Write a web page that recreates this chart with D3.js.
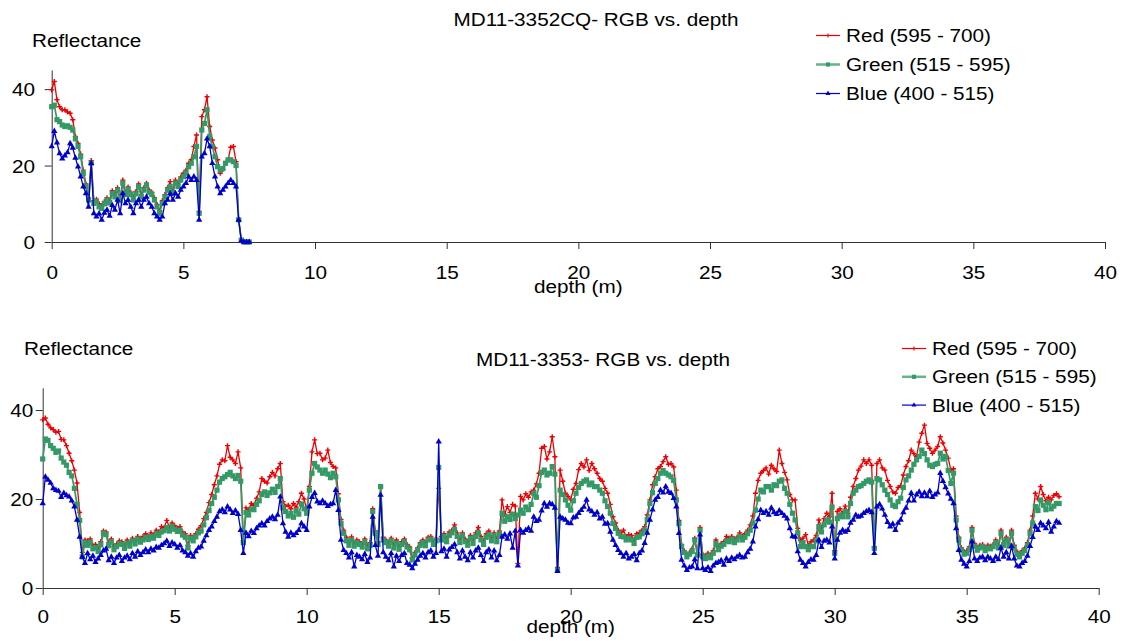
<!DOCTYPE html>
<html>
<head>
<meta charset="utf-8">
<script src="https://cdn.jsdelivr.net/npm/d3@7"></script>
<style>
body { margin: 0; background: #fff; }
svg { display: block; font-family: 'Liberation Sans', Arial, sans-serif; }
</style>
</head>
<body>
<svg id="chart" width="1123" height="641"></svg>
<script>
// depth is sampled every 10 cm, first sample at 0 m
const depthStep = 0.1
const xTicks = [0, 5, 10, 15, 20, 25, 30, 35, 40]
const yTicks = [0, 20, 40]
const seriesNames = ['Red (595 - 700)', 'Green (515 - 595)', 'Blue (400 - 515)']

// MD11-3352CQ (0 - 7.5 m)
const top_red = [
    39.8, 42.0, 37.2, 35.4, 34.6, 34.6, 34.0, 33.7, 32.0, 27.6,
    25.8, 23.0, 18.8, 15.2, 11.6, 21.3, 10.8, 11.2, 10.0, 9.4,
    10.6, 11.6, 10.8, 13.4, 12.6, 14.2, 11.4, 16.2, 13.0, 14.4,
    13.0, 11.8, 13.2, 15.2, 12.4, 14.2, 15.4, 13.6, 13.0, 11.6,
    9.8, 8.2, 10.8, 12.4, 14.2, 15.8, 13.4, 16.2, 15.2, 17.0,
    18.0, 18.8, 20.6, 21.5, 25.0, 28.0, 8.0, 32.8, 34.6, 38.0,
    30.2, 26.7, 24.6, 21.5, 18.0, 19.0, 20.6, 21.5, 24.8, 25.0,
    21.0, 6.0, 0.6, 0, 0, 0]
const top_green = [
    35.4, 35.8, 32.0, 31.5, 30.6, 30.2, 30.4, 30.0, 29.3, 27.0,
    25.0, 22.3, 18.0, 14.5, 11.0, 20.6, 10.1, 10.6, 9.2, 8.8,
    10.0, 11.0, 10.2, 12.7, 11.8, 13.6, 10.8, 15.4, 12.4, 13.8,
    12.4, 11.0, 12.6, 14.5, 11.8, 13.6, 14.9, 13.0, 12.4, 11.0,
    9.2, 7.5, 10.1, 11.8, 13.6, 14.5, 12.7, 15.4, 14.5, 16.2,
    17.1, 18.0, 19.7, 20.6, 22.3, 25.0, 7.5, 29.3, 31.0, 34.6,
    27.6, 25.0, 22.3, 19.7, 18.8, 19.2, 20.6, 21.5, 21.5, 21.0,
    20.0, 5.8, 0.5, 0, 0, 0]
const top_blue = [
    25.0, 29.0, 26.0, 23.2, 21.8, 22.6, 23.4, 25.8, 24.6, 22.0,
    19.7, 17.1, 14.5, 12.7, 9.2, 20.6, 7.5, 6.6, 7.4, 5.8,
    7.6, 8.4, 6.8, 9.6, 8.4, 11.0, 7.5, 12.7, 10.1, 11.0,
    9.2, 7.5, 10.1, 11.0, 9.2, 11.0, 11.8, 10.1, 9.2, 7.5,
    6.6, 5.8, 6.6, 10.1, 11.0, 12.7, 11.0, 12.7, 11.8, 13.6,
    14.5, 15.4, 17.1, 16.2, 17.1, 16.2, 5.8, 22.3, 23.2, 27.0,
    25.0, 20.6, 17.1, 14.5, 12.7, 13.6, 14.5, 15.4, 16.2, 15.4,
    14.5, 5.8, 0.3, 0, 0, 0]

// MD11-3353 (0 - 38.5 m)
const bot_red = [
    37.8, 38.2, 36.8, 36.0, 35.6, 35.0, 35.2, 33.4, 33.3, 32.0,
    30.3, 28.6, 26.5, 23.6, 17.0, 8.0, 10.8, 10.6, 11.0, 9.6,
    9.8, 9.0, 10.4, 12.8, 12.6, 10.2, 11.0, 9.4, 9.9, 10.6,
    10.4, 9.6, 10.8, 10.0, 11.2, 10.6, 11.6, 11.0, 11.6, 12.2,
    11.6, 12.4, 11.9, 13.0, 12.6, 13.8, 13.6, 15.2, 13.6, 14.6,
    14.0, 13.4, 13.8, 12.6, 12.2, 9.6, 11.8, 11.4, 12.2, 13.2,
    14.0, 15.6, 17.0, 19.2, 21.0, 23.2, 25.2, 27.8, 28.8, 28.6,
    32.0, 29.4, 28.8, 28.0, 30.6, 27.0, 10.6, 18.0, 17.6, 19.0,
    18.6, 20.2, 21.6, 24.6, 24.0, 23.6, 25.0, 26.0, 25.2, 26.8,
    28.0, 19.4, 18.4, 18.6, 17.8, 19.0, 18.2, 19.4, 21.3, 20.0,
    17.5, 22.8, 30.6, 33.3, 30.2, 30.3, 28.8, 29.2, 31.0, 28.2,
    27.3, 27.0, 21.2, 15.4, 13.0, 11.4, 10.4, 11.5, 10.0, 10.8,
    10.4, 9.8, 11.0, 9.6, 10.2, 17.8, 12.8, 10.4, 22.8, 11.4,
    10.8, 10.2, 11.2, 9.8, 10.8, 9.4, 10.4, 11.0, 9.8, 9.2,
    6.8, 8.0, 9.0, 10.2, 10.8, 10.2, 11.4, 11.6, 10.4, 11.2,
    22.4, 11.6, 12.2, 11.2, 12.6, 13.0, 14.2, 12.4, 11.0, 12.4,
    11.0, 10.4, 11.8, 10.8, 12.4, 13.6, 11.6, 10.6, 12.2, 12.8,
    11.4, 12.4, 11.2, 12.8, 19.8, 16.6, 18.3, 17.0, 18.8, 18.4,
    5.5, 20.6, 19.8, 21.2, 20.4, 21.6, 22.0, 23.4, 25.8, 31.4,
    31.8, 29.0, 30.6, 34.0, 29.5, 4.6, 26.5, 24.0, 21.3, 20.6,
    19.8, 22.2, 23.5, 26.6, 28.0, 27.2, 28.8, 26.4, 28.0, 26.8,
    25.8, 24.6, 24.0, 22.4, 21.3, 18.8, 16.0, 14.6, 13.0, 12.4,
    13.0, 11.6, 12.0, 11.8, 10.8, 12.2, 12.4, 13.0, 13.8, 16.4,
    19.8, 23.2, 25.0, 26.8, 27.3, 28.4, 29.5, 27.8, 28.0, 27.2,
    22.0, 15.2, 9.8, 8.4, 7.6, 8.0, 8.8, 11.2, 7.8, 13.6,
    7.6, 7.2, 7.8, 7.4, 8.4, 10.8, 9.2, 10.0, 10.4, 11.6,
    11.2, 11.6, 11.0, 11.4, 12.4, 11.6, 12.2, 13.0, 14.2, 16.2,
    21.3, 24.2, 25.8, 26.4, 27.0, 25.6, 27.6, 26.8, 26.2, 31.0,
    28.0, 26.0, 24.3, 21.0, 19.8, 19.8, 13.4, 10.8, 11.2, 12.0,
    9.6, 10.4, 10.8, 11.8, 15.3, 13.6, 15.6, 16.8, 16.0, 21.3,
    8.4, 17.2, 17.8, 16.8, 18.4, 16.8, 20.4, 22.8, 24.6, 26.5,
    27.4, 28.8, 28.0, 28.8, 27.6, 9.2, 28.0, 28.8, 27.0, 26.5,
    24.2, 22.8, 21.6, 21.3, 22.6, 23.0, 25.4, 27.3, 28.6, 31.0,
    30.2, 29.5, 32.8, 34.8, 36.6, 32.5, 31.4, 30.3, 31.0, 31.8,
    34.0, 32.6, 31.0, 29.2, 26.5, 26.8, 16.2, 11.4, 9.0, 8.2,
    8.4, 9.2, 13.6, 10.0, 9.0, 9.6, 9.8, 9.0, 9.6, 9.4,
    9.8, 10.8, 9.6, 13.0, 10.2, 11.4, 10.0, 13.0, 9.6, 8.2,
    7.6, 8.4, 9.0, 10.2, 13.0, 16.2, 21.3, 20.0, 22.8, 21.0,
    19.6, 20.4, 19.8, 20.8, 21.2, 20.5]
const bot_green = [
    29.0, 33.5, 33.2, 32.0, 31.4, 30.5, 30.8, 29.2, 28.3, 27.6,
    26.0, 25.2, 22.4, 18.8, 15.2, 7.0, 10.2, 9.6, 10.3, 8.8,
    9.1, 8.2, 9.7, 12.3, 12.0, 9.5, 10.4, 8.6, 9.3, 10.0,
    9.8, 8.9, 10.1, 9.4, 10.6, 9.9, 11.0, 10.3, 10.8, 11.4,
    10.9, 11.6, 11.2, 12.2, 11.8, 12.6, 12.9, 13.6, 12.8, 13.9,
    13.2, 12.7, 13.0, 11.9, 11.4, 9.0, 11.2, 10.6, 11.5, 12.4,
    12.8, 14.2, 15.8, 17.4, 19.0, 20.4, 22.0, 23.8, 24.6, 25.0,
    25.5, 26.0, 25.2, 24.6, 25.3, 24.0, 10.2, 17.0, 16.4, 17.8,
    17.6, 18.8, 19.6, 21.0, 21.6, 20.8, 21.4, 22.2, 21.5, 22.8,
    24.6, 18.0, 17.2, 16.2, 16.8, 15.9, 17.4, 16.6, 18.9, 17.8,
    16.8, 22.0, 25.8, 28.0, 27.2, 26.5, 25.8, 26.5, 25.6, 24.8,
    25.8, 25.0, 19.8, 14.5, 12.3, 10.6, 9.6, 10.8, 9.4, 10.2,
    9.8, 9.2, 10.4, 8.8, 9.6, 17.2, 12.3, 9.8, 22.8, 10.8,
    10.2, 9.4, 10.6, 9.0, 10.1, 8.7, 9.8, 10.4, 9.2, 8.6,
    6.3, 7.4, 8.5, 9.6, 10.2, 9.5, 10.8, 11.0, 9.8, 10.6,
    27.1, 10.8, 11.6, 10.4, 11.8, 12.4, 13.2, 11.6, 10.2, 11.8,
    10.4, 9.6, 11.2, 10.0, 11.6, 12.4, 10.8, 9.8, 11.4, 12.0,
    10.6, 11.8, 10.4, 12.0, 16.8, 15.0, 16.0, 15.4, 16.6, 15.6,
    16.4, 17.5, 16.8, 18.2, 17.6, 18.8, 21.3, 20.4, 23.0, 26.0,
    26.5, 25.4, 25.8, 27.3, 25.6, 4.0, 22.0, 21.0, 19.8, 18.6,
    17.5, 19.6, 21.3, 22.6, 23.5, 24.0, 24.3, 23.2, 23.6, 22.8,
    22.8, 22.0, 21.3, 19.6, 18.3, 16.8, 14.5, 13.4, 12.3, 11.6,
    11.5, 10.8, 11.2, 10.8, 10.0, 11.4, 11.5, 12.2, 13.0, 15.4,
    19.0, 21.4, 23.5, 24.6, 25.8, 26.4, 25.8, 25.4, 25.0, 24.2,
    19.8, 14.5, 9.3, 8.0, 7.0, 7.6, 8.2, 10.8, 7.4, 13.0,
    7.0, 6.6, 7.2, 6.8, 7.8, 10.0, 8.6, 9.4, 9.8, 10.6,
    10.4, 11.0, 10.2, 10.8, 11.6, 10.8, 11.4, 12.2, 13.0, 14.6,
    17.5, 20.0, 22.0, 21.6, 22.8, 22.8, 22.0, 23.2, 23.0, 24.0,
    24.3, 22.4, 21.3, 18.8, 16.8, 15.3, 12.4, 9.3, 10.2, 9.3,
    8.6, 9.4, 9.3, 10.6, 13.8, 12.6, 14.2, 15.3, 14.8, 18.2,
    7.8, 15.6, 16.4, 16.0, 17.2, 16.0, 19.0, 21.3, 22.0, 22.8,
    23.0, 23.5, 24.0, 24.3, 23.8, 8.9, 24.6, 24.3, 23.2, 22.0,
    21.0, 19.8, 18.6, 18.3, 19.4, 20.2, 22.6, 24.3, 25.2, 26.5,
    27.8, 28.8, 29.6, 31.0, 30.2, 28.8, 27.6, 27.3, 27.8, 28.0,
    30.3, 29.0, 29.6, 26.4, 23.5, 25.8, 15.3, 10.8, 8.5, 7.6,
    7.8, 8.6, 13.0, 9.4, 8.5, 9.0, 9.3, 8.4, 9.0, 8.8,
    9.3, 10.2, 9.0, 12.3, 9.6, 10.8, 9.4, 12.3, 9.0, 7.6,
    7.0, 7.8, 8.4, 9.6, 12.3, 14.6, 18.3, 17.4, 19.8, 18.6,
    17.6, 19.2, 17.8, 18.4, 19.0, 19.0]
const bot_blue = [
    19.0, 25.0, 24.3, 23.6, 22.4, 22.0, 21.8, 20.4, 21.3, 20.8,
    20.5, 19.6, 18.3, 15.3, 11.5, 7.0, 5.6, 7.8, 6.4, 7.2,
    5.8, 6.6, 7.4, 8.4, 8.8, 6.2, 7.0, 5.6, 6.8, 7.4,
    6.0, 6.8, 7.2, 6.4, 7.8, 7.0, 8.2, 7.4, 8.0, 8.6,
    8.0, 8.8, 8.4, 9.2, 9.0, 9.6, 10.0, 10.6, 9.4, 10.2,
    9.8, 9.0, 9.6, 8.4, 8.0, 7.2, 7.8, 7.0, 8.2, 9.0,
    9.3, 10.6, 11.8, 13.0, 13.8, 15.0, 16.0, 17.2, 17.6, 17.0,
    18.3, 17.6, 16.8, 17.4, 16.6, 13.0, 7.8, 12.4, 11.6, 12.8,
    12.3, 13.4, 14.0, 14.5, 14.0, 15.0, 15.6, 16.0, 15.4, 16.4,
    20.5, 14.5, 12.6, 11.5, 12.4, 11.8, 12.3, 13.0, 14.5, 13.8,
    13.0, 18.3, 20.4, 21.3, 19.4, 19.0, 19.6, 19.0, 18.4, 18.8,
    19.0, 22.0, 17.5, 10.8, 8.5, 7.8, 6.8, 8.0, 4.8, 7.4,
    7.0, 6.4, 7.6, 5.8, 6.8, 16.0, 9.6, 7.2, 20.9, 8.0,
    7.0, 6.2, 7.8, 4.8, 7.2, 6.0, 7.4, 7.8, 5.6, 5.2,
    4.4, 5.4, 6.3, 7.2, 7.8, 6.8, 8.0, 8.4, 7.0, 7.8,
    32.9, 8.2, 8.8, 7.0, 8.6, 9.2, 9.8, 8.0, 6.6, 8.4,
    7.0, 6.2, 8.0, 6.8, 8.4, 9.0, 7.4, 6.0, 8.0, 8.6,
    6.8, 8.4, 6.2, 7.4, 11.5, 12.0, 11.0, 12.2, 9.0, 12.8,
    5.0, 13.0, 12.4, 13.0, 13.4, 12.8, 16.0, 15.0, 15.3, 17.4,
    19.0, 18.2, 19.0, 18.8, 18.0, 3.8, 16.0, 15.6, 15.3, 14.6,
    14.5, 15.8, 16.0, 16.8, 17.5, 18.2, 19.8, 17.6, 17.2, 16.4,
    17.0, 15.6, 16.0, 14.4, 14.5, 12.6, 10.8, 9.6, 8.5, 7.8,
    7.0, 7.8, 6.6, 7.0, 7.6, 6.2, 7.8, 8.4, 10.1, 12.4,
    15.3, 17.6, 19.8, 20.4, 22.0, 21.4, 22.8, 21.6, 21.3, 20.2,
    18.3, 12.3, 6.3, 5.0, 4.0, 4.6, 4.8, 6.4, 4.4, 12.0,
    4.4, 4.0, 4.6, 3.8, 5.0, 5.6, 5.8, 6.2, 5.2, 6.6,
    6.0, 6.8, 6.4, 7.0, 7.4, 6.8, 7.0, 8.0, 8.8, 10.4,
    13.8, 15.4, 17.5, 16.8, 17.2, 16.4, 18.0, 17.0, 16.6, 17.4,
    16.8, 16.2, 15.6, 13.4, 11.6, 11.5, 8.2, 6.3, 5.6, 4.8,
    5.8, 6.4, 6.3, 7.4, 10.8, 9.2, 10.6, 10.8, 10.2, 13.8,
    6.6, 10.8, 12.4, 13.0, 12.6, 13.0, 14.6, 15.3, 16.4, 16.0,
    16.2, 16.8, 17.2, 17.5, 17.0, 7.8, 18.3, 18.8, 17.8, 16.4,
    14.8, 13.8, 14.4, 13.0, 14.6, 15.3, 17.0, 18.0, 19.6, 21.3,
    19.6, 21.0, 21.6, 20.6, 21.4, 20.6, 21.8, 20.4, 21.0, 21.4,
    25.8, 24.0, 22.6, 21.2, 20.0, 19.0, 13.4, 8.5, 6.3, 5.4,
    4.8, 6.0, 10.4, 6.6, 6.0, 6.8, 7.0, 6.2, 7.0, 6.6,
    6.0, 7.0, 6.4, 9.0, 7.0, 8.0, 6.6, 9.4, 6.6, 5.0,
    4.8, 5.6, 6.0, 7.2, 9.4, 11.4, 13.8, 13.0, 14.6, 14.0,
    13.4, 14.8, 12.6, 13.8, 15.0, 14.6]

const FONT = 18.5
const STRETCH = 1.12   // the original text is a bit wider than Arial
const colors = ['#ee0000', '#339966', '#0000cc']

const svg = d3.select('#chart')

const put_text = (g, x, y, str, anchor = 'start') => g.append('text')
    .attr('transform', `translate(${x},${y}) scale(${STRETCH},1)`)
    .attr('text-anchor', anchor)
    .attr('font-size', FONT)
    .attr('fill', '#000')
    .text(str)

// marker for each series: red plus, green square, blue triangle
const draw_marker = (sel, k) => {
    if (k === 0) {
        sel.append('path').attr('d', 'M-2.5,0H2.5M0,-2.5V2.5')
            .attr('stroke', colors[0]).attr('stroke-width', 1.4).attr('fill', 'none')
    } else if (k === 1) {
        sel.append('rect').attr('x', -2.6).attr('y', -2.6).attr('width', 5.2).attr('height', 5.2)
            .attr('fill', colors[1])
    } else {
        sel.append('path').attr('d', d3.symbol(d3.symbolTriangle, 17)())
            .attr('fill', colors[2])
    }
}

const make_panel = (p) => {
    const x = d3.scaleLinear().domain([0, 40]).range([p.left, p.right])
    const y = d3.scaleLinear().domain([0, 45]).range([p.bottom, p.top])
    const g = svg.append('g')

    const xAxis = a => a
        .attr('transform', `translate(0,${p.bottom})`)
        .call(d3.axisBottom(x).tickValues(xTicks).tickSize(7).tickSizeOuter(0))
    const yAxis = a => a
        .attr('transform', `translate(${p.left},0)`)
        .call(d3.axisLeft(y).tickValues(yTicks).tickSize(7).tickSizeOuter(0))

    g.append('g').call(xAxis)
        .attr('font-size', FONT).attr('font-family', null)
        .call(a => a.selectAll('.tick text')
            .attr('y', p.xLabelDy).attr('dy', null)
            .attr('transform', `scale(${STRETCH},1)`))
    g.append('g').call(yAxis)
        .attr('font-size', FONT).attr('font-family', null)
        .call(a => a.selectAll('.tick text')
            .attr('x', null).attr('dy', '0.36em')
            .attr('transform', `translate(${-p.yLabelOff},0) scale(${STRETCH},1)`))
    g.selectAll('.domain, .tick line').attr('stroke', '#333')
    g.selectAll('.tick text').attr('fill', '#000')

    p.series.forEach((vals, k) => {
        const line = d3.line()
            .x((d, i) => x(i * depthStep))
            .y(d => y(d))
        g.append('path')
            .datum(vals)
            .attr('fill', 'none')
            .attr('stroke', colors[k])
            .attr('stroke-width', k === 1 ? 1.7 : 1.3)
            .attr('stroke-linejoin', 'round')
            .attr('d', line)
        g.append('g').selectAll('g')
            .data(vals)
            .join('g')
            .attr('transform', (d, i) => `translate(${x(i * depthStep)},${y(d)})`)
            .each(function () { draw_marker(d3.select(this), k) })
    })

    put_text(g, p.titleX, p.titleY, p.title, 'middle')
    put_text(g, p.yTitleX, p.yTitleY, 'Reflectance')
    put_text(g, x(20), p.xTitleY, 'depth (m)', 'middle')

    // legend
    seriesNames.forEach((name, k) => {
        const cy = p.legendY + k * p.legendDy
        const lg = g.append('g')
        lg.append('line')
            .attr('x1', p.legendX).attr('x2', p.legendX + 24)
            .attr('y1', cy).attr('y2', cy)
            .attr('stroke', colors[k])
            .attr('stroke-width', k === 1 ? 2.5 : 1.2)
            .attr('stroke-opacity', k === 1 ? 0.75 : 1)
        draw_marker(lg.append('g').attr('transform', `translate(${p.legendX + 12},${cy}) scale(0.8)`), k)
        put_text(lg, p.legendX + 30, cy + 6.6, name)
    })
}

make_panel({
    series: [top_red, top_green, top_blue],
    left: 51.7, right: 1105, top: 70, bottom: 242,
    xLabelDy: 37.5, yLabelOff: 16.7,
    title: 'MD11-3352CQ- RGB vs. depth', titleX: 596, titleY: 26,
    yTitleX: 32, yTitleY: 47, xTitleY: 293,
    legendX: 816, legendY: 35.5, legendDy: 29
})

make_panel({
    series: [bot_red, bot_green, bot_blue],
    left: 42.7, right: 1098.7, top: 387.8, bottom: 588,
    xLabelDy: 35.5, yLabelOff: 9.4,
    title: 'MD11-3353- RGB vs. depth', titleX: 603, titleY: 366,
    yTitleX: 24, yTitleY: 355, xTitleY: 633,
    legendX: 902, legendY: 348.5, legendDy: 28.3
})
</script>
</body>
</html>
